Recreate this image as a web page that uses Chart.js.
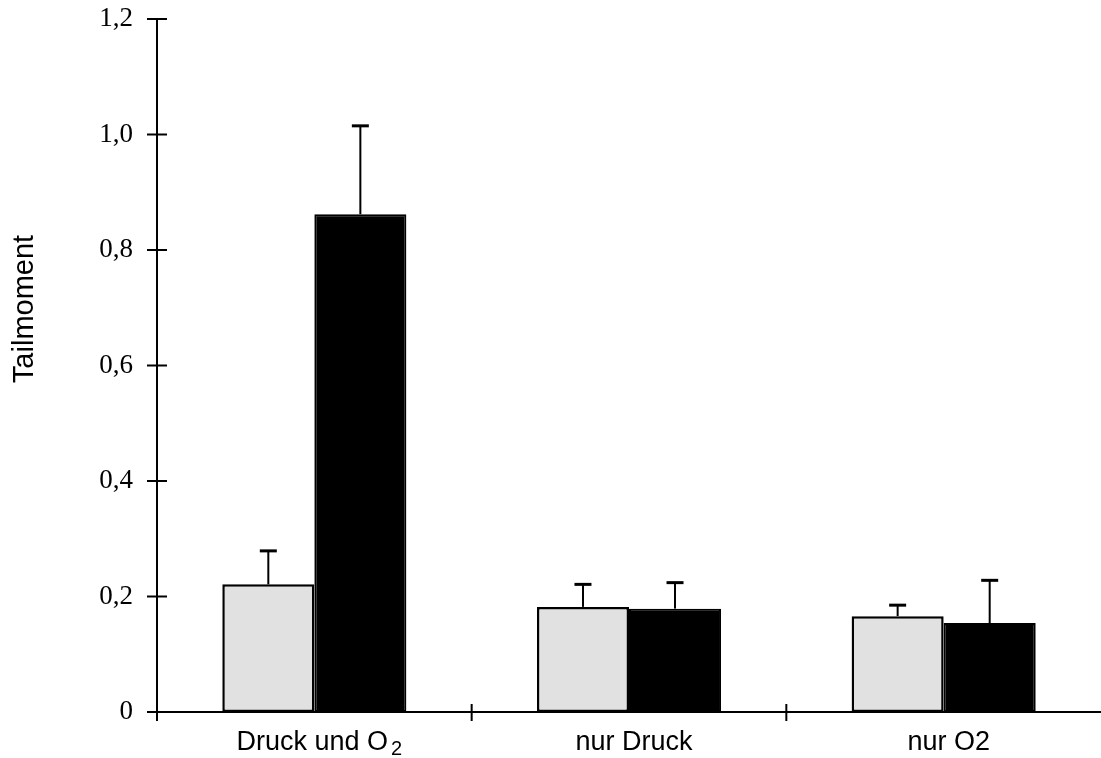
<!DOCTYPE html>
<html>
<head>
<meta charset="utf-8">
<title>Tailmoment</title>
<script src="https://cdn.jsdelivr.net/npm/chart.js@4.4.1/dist/chart.umd.min.js"></script>
<style>
  html, body { margin: 0; padding: 0; background: #ffffff; }
  #wrap { width: 1101px; height: 758px; position: relative; }
</style>
</head>
<body>
<div id="wrap"><canvas id="chart"></canvas></div>
<script>
// Groups on the x axis
const categories = ['Druck und O\u2082', 'nur Druck', 'nur O2'];

// Mean tail moment per group (light and dark series)
const lightMeans = [0.221, 0.182, 0.166];
const darkMeans  = [0.862, 0.179, 0.154];

// Upper error (standard deviation) per group
const lightErr = [0.058, 0.039, 0.019];
const darkErr  = [0.153, 0.045, 0.074];

// Y axis ticks
const yTicks = [0, 0.2, 0.4, 0.6, 0.8, 1.0, 1.2];
const yTitle = 'Tailmoment';

const errorSets = [lightErr, darkErr];

// Upward-only error whiskers with a short cap
const errorBars = {
  id: 'errorBars',
  afterDatasetsDraw(chart) {
    const ctx = chart.ctx;
    const y = chart.scales.y;
    ctx.save();
    ctx.strokeStyle = '#000';
    chart.data.datasets.forEach((ds, di) => {
      const meta = chart.getDatasetMeta(di);
      meta.data.forEach((bar, i) => {
        const top = y.getPixelForValue(ds.data[i] + errorSets[di][i]);
        const base = y.getPixelForValue(ds.data[i]);
        ctx.lineWidth = 2;
        ctx.beginPath();
        ctx.moveTo(bar.x, base);
        ctx.lineTo(bar.x, top);
        ctx.stroke();
        ctx.lineWidth = 3;
        ctx.beginPath();
        ctx.moveTo(bar.x - 8.5, top);
        ctx.lineTo(bar.x + 8.5, top);
        ctx.stroke();
      });
    });
    ctx.restore();
  }
};

// Tick marks crossing both axes, x labels with subscript, rotated y title
const axisDecor = {
  id: 'axisDecor',
  afterDraw(chart) {
    const ctx = chart.ctx;
    const xs = chart.scales.x;
    const ys = chart.scales.y;
    const area = chart.chartArea;
    ctx.save();
    ctx.strokeStyle = '#000';
    ctx.lineWidth = 2;
    // y tick marks
    yTicks.forEach(v => {
      const py = ys.getPixelForValue(v);
      ctx.beginPath();
      ctx.moveTo(area.left - 10, py);
      ctx.lineTo(area.left + 10, py);
      ctx.stroke();
    });
    // x tick marks on category boundaries
    const step = xs.getPixelForValue(1) - xs.getPixelForValue(0);
    categories.forEach((c, i) => {
      const px = xs.getPixelForValue(i) - step / 2;
      ctx.beginPath();
      ctx.moveTo(px, area.bottom - 8);
      ctx.lineTo(px, area.bottom + 9);
      ctx.stroke();
    });
    // x labels
    ctx.fillStyle = '#000';
    ctx.textBaseline = 'alphabetic';
    ctx.textAlign = 'left';
    const mainFont = '27px "Liberation Sans", Arial, sans-serif';
    const subFont = '20px "Liberation Sans", Arial, sans-serif';
    categories.forEach((label, i) => {
      const cx = xs.getPixelForValue(i) + 5;
      const parts = label.split('\u2082');
      ctx.font = mainFont;
      const w1 = ctx.measureText(parts[0]).width;
      let w2 = 0;
      if (parts.length > 1) {
        ctx.font = subFont;
        w2 = ctx.measureText('2').width + 3;
      }
      const x0 = cx - (w1 + w2) / 2;
      ctx.font = mainFont;
      ctx.fillText(parts[0], x0, 750);
      if (parts.length > 1) {
        ctx.font = subFont;
        ctx.fillText('2', x0 + w1 + 3, 755);
      }
    });
    // y title
    ctx.font = '29px "Liberation Sans", Arial, sans-serif';
    ctx.textAlign = 'center';
    ctx.textBaseline = 'middle';
    ctx.translate(25, 309);
    ctx.rotate(-Math.PI / 2);
    ctx.fillText(yTitle, 0, 0);
    ctx.restore();
  }
};

new Chart(document.getElementById('chart'), {
  type: 'bar',
  data: {
    labels: categories,
    datasets: [
      {
        label: 'hell',
        data: lightMeans,
        backgroundColor: '#e1e1e1',
        borderColor: '#000',
        borderWidth: 2.5,
        borderSkipped: false
      },
      {
        label: 'dunkel',
        data: darkMeans,
        backgroundColor: '#000',
        borderColor: '#000',
        borderWidth: 2,
        borderSkipped: false
      }
    ]
  },
  options: {
    responsive: true,
    maintainAspectRatio: false,
    animation: false,
    devicePixelRatio: 1,
    layout: { padding: { top: 19, left: 0, right: 0, bottom: 0 } },
    plugins: {
      legend: { display: false },
      tooltip: { enabled: false },
      title: { display: false }
    },
    datasets: {
      bar: { categoryPercentage: 0.585, barPercentage: 1.0 }
    },
    scales: {
      x: {
        grid: { display: false, drawTicks: false },
        border: { display: true, color: '#000', width: 2 },
        ticks: { display: false },
        afterFit(scale) {
          scale.height = 46;
          scale.paddingLeft = 0;
          scale.paddingRight = 0;
        }
      },
      y: {
        min: 0,
        max: 1.2,
        afterBuildTicks(scale) { scale.ticks = yTicks.map(v => ({ value: v })); },
        grid: { display: false, drawTicks: false },
        border: { display: true, color: '#000', width: 2 },
        ticks: {
          padding: 24,
          color: '#000',
          font: { family: '"Liberation Serif", "Times New Roman", serif', size: 27 },
          callback: v => (v === 0 ? '0' : Number(v).toFixed(1).replace('.', ','))
        },
        afterFit(scale) {
          scale.width = 157;
          scale.paddingTop = 0;
          scale.paddingBottom = 0;
        }
      }
    }
  },
  plugins: [errorBars, axisDecor]
});
</script>
</body>
</html>
